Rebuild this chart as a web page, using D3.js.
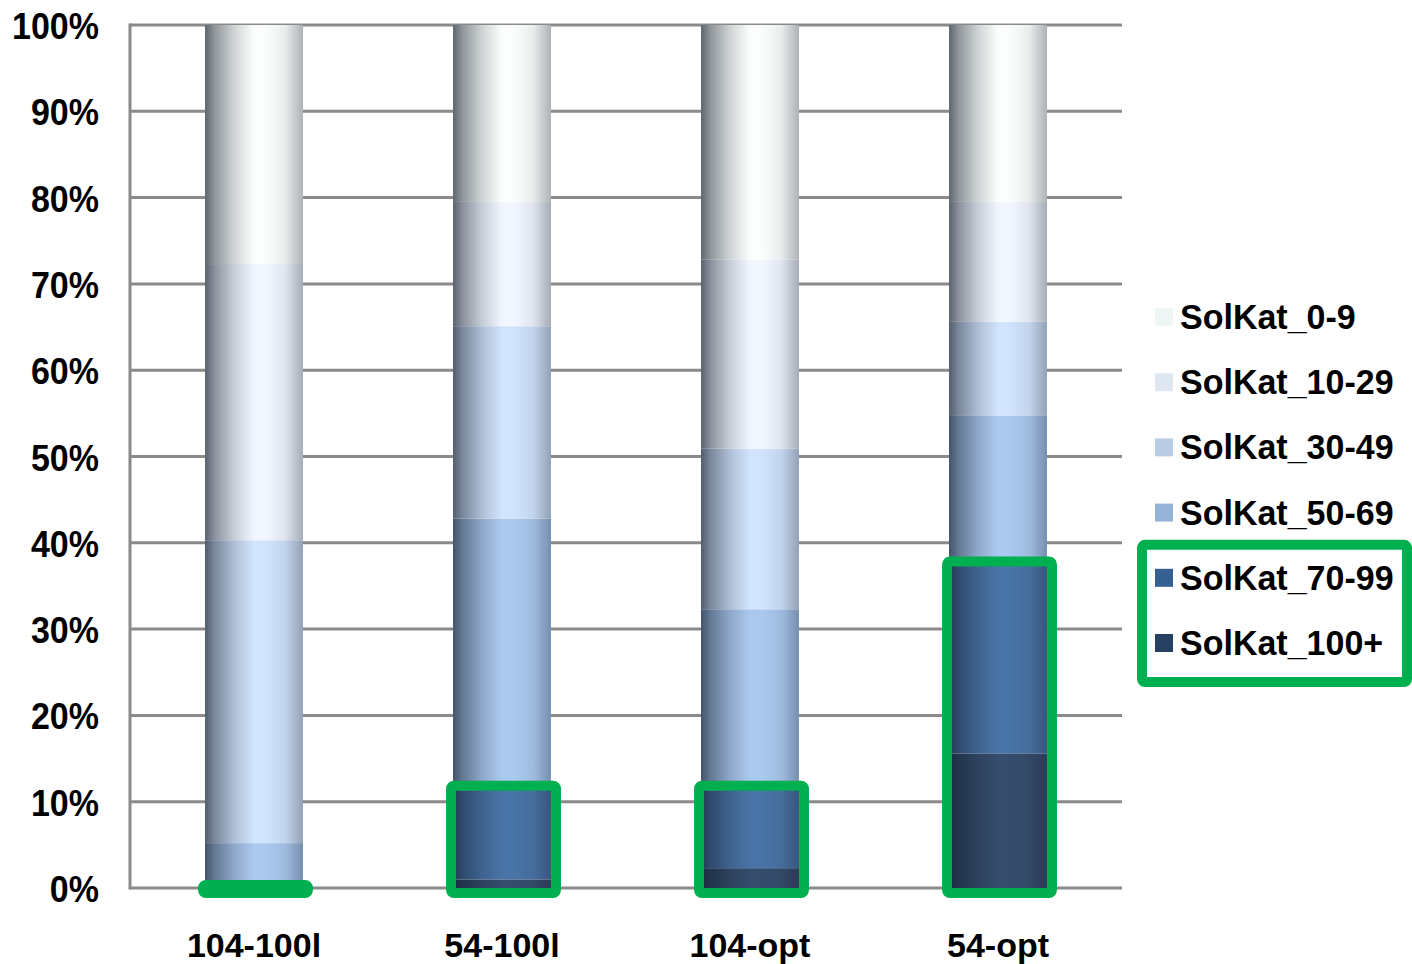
<!DOCTYPE html>
<html>
<head>
<meta charset="utf-8">
<script src="https://cdn.jsdelivr.net/npm/d3@7"></script>
<style>
  body { margin: 0; background: #fff; }
  text { font-family: "Liberation Sans", Arial, sans-serif; font-weight: bold; fill: #000; }
</style>
</head>
<body>
<div id="chart"></div>
<script>
// categories (x axis)
const categories = ["104-100l", "54-100l", "104-opt", "54-opt"];

// series, bottom to top of the stack
const seriesNames = ["SolKat_100+", "SolKat_70-99", "SolKat_50-69", "SolKat_30-49", "SolKat_10-29", "SolKat_0-9"];

// percent share per category, one array per series (same order as categories)
const solKat100 = [0, 1.0, 2.3, 15.6];
const solKat70 = [0, 10.5, 9.2, 21.9];
const solKat50 = [5.2, 31.3, 20.8, 17.2];
const solKat30 = [35.1, 22.3, 18.6, 10.9];
const solKat10 = [32.0, 14.4, 21.9, 13.9];
const solKat0 = [27.7, 20.5, 27.2, 20.5];

const yTicks = [0, 10, 20, 30, 40, 50, 60, 70, 80, 90, 100];

// highlighted series (green boxes)
const highlighted = ["SolKat_100+", "SolKat_70-99"];

const seriesValues = [solKat100, solKat70, solKat50, solKat30, solKat10, solKat0];

const swatchColors = {
  "SolKat_0-9": "#eff6f6",
  "SolKat_10-29": "#dfe7f3",
  "SolKat_30-49": "#b9cde5",
  "SolKat_50-69": "#95b3d7",
  "SolKat_70-99": "#376092",
  "SolKat_100+": "#254061",
};
const barCenter = {
  "SolKat_0-9": "#fbfefd",
  "SolKat_10-29": "#f1f6ff",
  "SolKat_30-49": "#d2e4fd",
  "SolKat_50-69": "#abc9ef",
  "SolKat_70-99": "#4a74a7",
  "SolKat_100+": "#354c6c",
};
const green = "#00b050";

const width = 1412, height = 964;
const plot = { left: 130, right: 1122, top: 25, bottom: 888 };

const svg = d3.select("#chart").append("svg")
  .attr("width", width)
  .attr("height", height);

const x = d3.scaleBand()
  .domain(categories)
  .range([plot.left, plot.right])
  .paddingInner(0.605)
  .paddingOuter(0.3025);

const y = d3.scaleLinear().domain([0, 100]).range([plot.bottom, plot.top]);

// cylinder-like shading for each series
const defs = svg.append("defs");
seriesNames.forEach((name, i) => {
  const c = barCenter[name];
  const dark = "#0e1826";
  const g = defs.append("linearGradient")
    .attr("id", `grad${i}`)
    .attr("x1", "0").attr("x2", "1").attr("y1", "0").attr("y2", "0");
  const stops = [
    [0, d3.interpolateRgb(c, dark)(0.66)],
    [0.1, d3.interpolateRgb(c, dark)(0.45)],
    [0.3, d3.interpolateRgb(c, dark)(0.18)],
    [0.5, c],
    [0.62, c],
    [0.82, d3.interpolateRgb(c, dark)(0.08)],
    [1, d3.interpolateRgb(c, dark)(0.33)],
  ];
  g.selectAll("stop").data(stops).join("stop")
    .attr("offset", (d) => d[0])
    .attr("stop-color", (d) => d[1]);
});

// gridlines
svg.append("g")
  .selectAll("line")
  .data(yTicks)
  .join("line")
  .attr("x1", plot.left)
  .attr("x2", plot.right)
  .attr("y1", (d) => y(d))
  .attr("y2", (d) => y(d))
  .attr("stroke", "#8a8a8a")
  .attr("stroke-width", 3);

svg.append("line")
  .attr("x1", plot.left).attr("x2", plot.left)
  .attr("y1", y(100) - 1.5).attr("y2", y(0) + 1.5)
  .attr("stroke", "#8a8a8a")
  .attr("stroke-width", 3);

// y tick labels
svg.append("g")
  .selectAll("text")
  .data(yTicks)
  .join("text")
  .attr("text-anchor", "end")
  .attr("transform", (d) => `translate(99, ${y(d) + 14}) scale(1, 1.1)`)
  .style("font-size", "34px")
  .text((d) => `${d}%`);

// stacked data
const table = categories.map((cat, ci) => {
  const row = { category: cat };
  seriesNames.forEach((s, si) => { row[s] = seriesValues[si][ci]; });
  return row;
});
const stacked = d3.stack().keys(seriesNames)(table);

svg.append("g")
  .selectAll("g")
  .data(stacked)
  .join("g")
  .attr("fill", (d, i) => `url(#grad${i})`)
  .selectAll("rect")
  .data((d) => d)
  .join("rect")
  .attr("x", (d) => x(d.data.category))
  .attr("width", x.bandwidth())
  .attr("y", (d) => y(d[1]))
  .attr("height", (d) => y(d[0]) - y(d[1]));

// x labels
svg.append("g")
  .selectAll("text")
  .data(categories)
  .join("text")
  .attr("text-anchor", "middle")
  .attr("x", (d) => x(d) + x.bandwidth() / 2)
  .attr("y", 957)
  .style("font-size", "34px")
  .text((d) => d);

// green highlight boxes around the top-solvency segments
const hlTop = categories.map((cat, ci) =>
  d3.sum(highlighted, (s) => seriesValues[seriesNames.indexOf(s)][ci])
);
svg.append("g")
  .selectAll("rect")
  .data(categories)
  .join("rect")
  .attr("x", (d) => x(d) - 2)
  .attr("width", x.bandwidth() + 7)
  .attr("y", (d, i) => y(hlTop[i]) - 3)
  .attr("height", (d, i) => Math.max(0, y(0) + 5 - (y(hlTop[i]) - 3)))
  .attr("rx", 3)
  .attr("fill", (d, i) => (hlTop[i] === 0 ? green : "none"))
  .attr("stroke", green)
  .attr("stroke-width", 10)
  .attr("stroke-linejoin", "round");

// legend
const legendNames = seriesNames.slice().reverse();
const legendY = (i) => 317 + i * 65.2;
const legend = svg.append("g");
legend.selectAll("rect")
  .data(legendNames)
  .join("rect")
  .attr("x", 1155)
  .attr("y", (d, i) => legendY(i) - 9)
  .attr("width", 18)
  .attr("height", 18)
  .attr("fill", (d) => swatchColors[d]);
legend.selectAll("text")
  .data(legendNames)
  .join("text")
  .attr("transform", (d, i) => `translate(1180, ${legendY(i) + 12}) scale(1, 1.05)`)
  .style("font-size", "34px")
  .text((d) => d);

const hlIdx = highlighted.map((s) => legendNames.indexOf(s));
legend.append("rect")
  .attr("x", 1142)
  .attr("y", legendY(d3.min(hlIdx)) - 33)
  .attr("width", 265)
  .attr("height", legendY(d3.max(hlIdx)) - legendY(d3.min(hlIdx)) + 72)
  .attr("rx", 3)
  .attr("fill", "none")
  .attr("stroke", green)
  .attr("stroke-width", 10);
</script>
</body>
</html>
